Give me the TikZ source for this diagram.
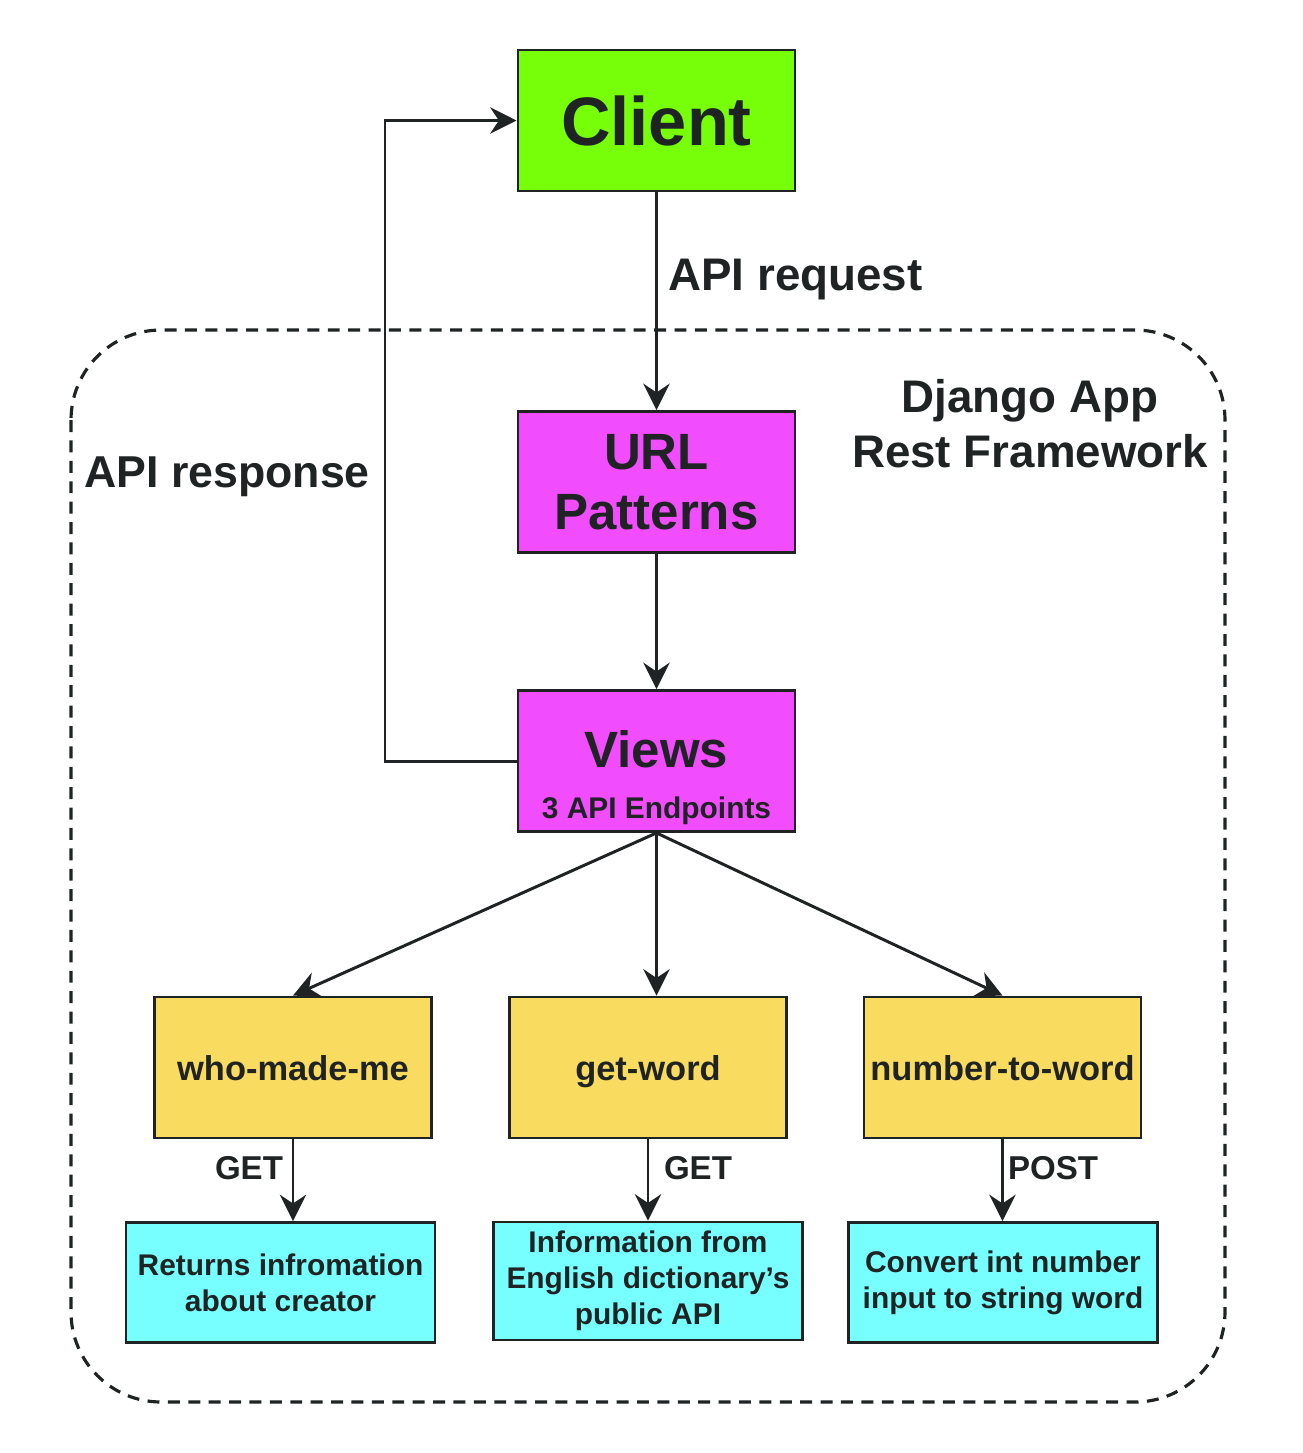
\documentclass[tikz,border=0pt]{standalone}
\usepackage{fontspec}
\setmainfont{Liberation Sans}
\usetikzlibrary{arrows.meta}
\definecolor{clientgreen}{RGB}{119,255,10}
\definecolor{djmagenta}{RGB}{242,76,255}
\definecolor{endyellow}{RGB}{249,219,95}
\definecolor{infocyan}{RGB}{119,255,255}
\definecolor{ink}{RGB}{31,35,35}
\tikzset{
  box/.style={draw=ink, line width=0.8pt, minimum width=2.77cm, minimum height=1.41cm, inner sep=0pt, text=ink, font=\bfseries, align=center},
  endbox/.style={box, fill=endyellow, text height=0.85em, text depth=0.1em, font=\bfseries\fontsize{9.8}{12}\selectfont},
  infobox/.style={box, fill=infocyan, minimum width=3.09cm, minimum height=1.2cm, font=\bfseries\fontsize{8.5}{10.2}\selectfont},
  arr/.style={-{Stealth[length=7.5pt,width=7.5pt,inset=2.5pt]}, draw=ink, line width=0.85pt},
  lbl/.style={text=ink, font=\bfseries},
}
\begin{document}
\begin{tikzpicture}[x=0.01cm, y=-0.01cm]
            \useasboundingbox (0,0) rectangle (1303,1453);
            % app frame
            \draw[ink, line width=0.9pt, dash pattern=on 3.4pt off 2.4pt, rounded corners=0.9cm] (71,330) rectangle (1225,1402);
            \node[box, fill=clientgreen, font=\bfseries\fontsize{19.5}{22}\selectfont] (client) at (656.5,120.5) {Client};
            \node[box, fill=djmagenta, font=\bfseries\fontsize{14.5}{17}\selectfont] (url) at (656.5,482) {URL\\Patterns};
            \node[box, fill=djmagenta] (views) at (656.5,761) {};
            \node[lbl, align=center, inner sep=0pt] (viewstxt) at (656.5,778) {{\fontsize{14.5}{17}\selectfont Views}\\[2.5pt]{\fontsize{8.5}{10}\selectfont 3 API Endpoints}};
            \node[endbox] (who) at (293,1067.5) {who-made-me};
            \node[endbox] (getw) at (648,1067.5) {get-word};
            \node[endbox] (numw) at (1002.5,1067.5) {number-to-word};
            \node[infobox] (ret) at (280.5,1282.5) {Returns infromation\\about creator};
            \node[infobox, minimum height=1.18cm] (info) at (648,1281) {Information from\\English dictionary’s\\public API};
            \node[infobox] (conv) at (1003,1282.5) {Convert int number\\input to string word};
            % labels
            \node[lbl, anchor=west, font=\bfseries\fontsize{13}{15.6}\selectfont] (reqlbl) at (656,280) {API request};
            \node[lbl, anchor=west, font=\bfseries\fontsize{12.7}{15.6}\selectfont] (reslbl) at (72,477) {API response};
            \node[lbl, align=center, font=\bfseries\fontsize{13}{15.6}\selectfont] (applbl) at (1030,424) {Django App\\Rest Framework};
            \node[lbl, font=\bfseries\fontsize{9.4}{11}\selectfont] (get1) at (249,1168) {GET};
            \node[lbl, font=\bfseries\fontsize{9.4}{11}\selectfont] (get2) at (698,1168) {GET};
            \node[lbl, font=\bfseries\fontsize{9.4}{11}\selectfont] (post) at (1053,1168) {POST};
            % connectors
            \draw[arr] (client) -- (url);
            \draw[arr] (url) -- (views);
            \draw[arr] (views.south) -- (who.north);
            \draw[arr] (views.south) -- (getw.north -| views.south);
            \draw[arr] (views.south) -- (numw.north);
            \coordinate (back) at (385,761);
            \draw[arr] (views.west) -- (back) |- (client.west);
            \draw[arr] (who.south) -- (who.south |- ret.north);
            \draw[arr] (getw.south) -- (getw.south |- info.north);
            \draw[arr] (numw.south) -- (numw.south |- conv.north);
        \end{tikzpicture}
\end{document}
